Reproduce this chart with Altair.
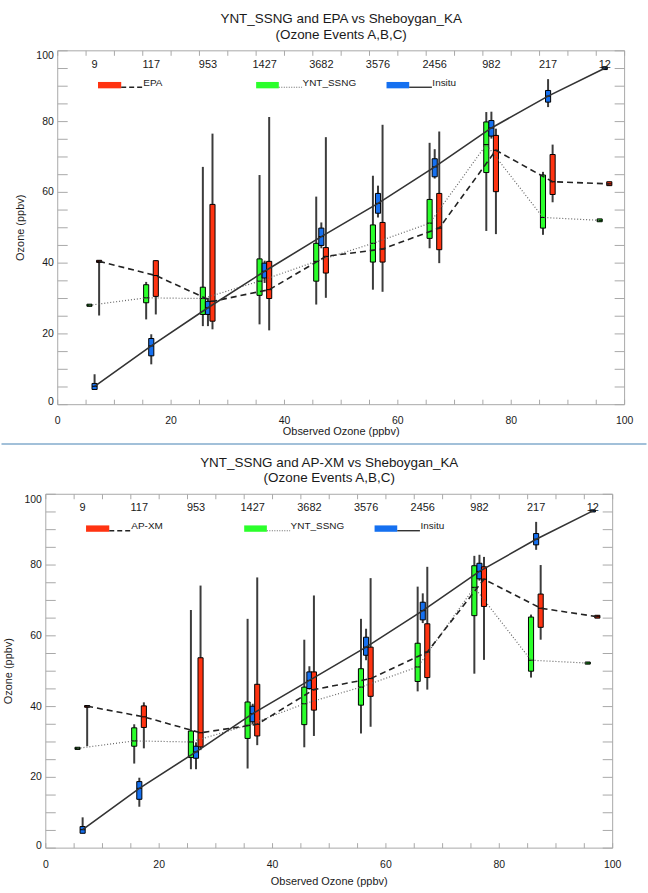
import altair as alt
import pandas as pd

# ---------------------------------------------------------------- data
BINS = [5, 15, 25, 35, 45, 55, 65, 75, 85, 95]
COUNTS = [9, 117, 953, 1427, 3682, 3576, 2456, 982, 217, 12]
X_LABELS = [0, 20, 40, 60, 80, 100]
Y_LABELS = [0, 20, 40, 60, 80, 100]
MINOR_TICKS = list(range(0, 101, 5))

# EPA vs observed (upper panel)
EPA_MIN = [25.2, 25.5, 21.3, 21.0, 30.2, 31.9, 40.0, 48.2, 57.2, 61.9]
EPA_Q1 = [40.2, 30.6, 23.6, 30.0, 37.2, 40.3, 43.8, 60.2, 59.4, 61.9]
EPA_MED = [40.5, 36.5, 29.2, 32.5, 41.9, 44.0, 49.9, 71.9, 63.0, 62.4]
EPA_Q3 = [40.8, 40.7, 56.6, 40.5, 44.4, 51.5, 59.7, 76.1, 70.7, 63.0]
EPA_MAX = [40.8, 40.8, 76.6, 81.3, 75.6, 79.1, 77.2, 78.0, 73.5, 63.0]

YNT1_MIN = [27.8, 24.1, 22.2, 22.7, 28.3, 32.5, 44.2, 49.1, 48.0, 51.7]
YNT1_Q1 = [27.8, 28.8, 25.5, 30.9, 34.9, 40.3, 47.0, 65.6, 49.9, 51.7]
YNT1_MED = [28.1, 30.2, 30.0, 34.9, 40.5, 45.6, 51.3, 73.5, 52.9, 52.1]
YNT1_Q3 = [28.4, 33.9, 33.2, 41.2, 45.6, 50.8, 58.0, 79.9, 64.9, 52.5]
YNT1_MAX = [28.4, 34.7, 67.2, 64.9, 58.8, 64.7, 74.0, 82.7, 65.8, 52.5]

INS1_MIN = [4.3, 11.4, 22.2, 34.4, 44.2, 52.9, 63.9, 75.2, 84.1, 94.7]
INS1_Q1 = [4.3, 13.8, 25.5, 35.8, 45.0, 54.1, 64.4, 75.9, 85.5, 94.7]
INS1_MED = [5.2, 16.6, 27.4, 37.7, 47.5, 56.9, 67.2, 78.2, 87.2, 95.1]
INS1_Q3 = [6.0, 18.7, 29.2, 40.0, 49.9, 59.7, 69.5, 80.3, 88.8, 95.5]
INS1_MAX = [8.6, 19.9, 30.2, 40.7, 51.5, 61.9, 72.2, 82.8, 92.0, 95.5]

# AP-XM vs observed (lower panel)
APX_MIN = [28.8, 28.2, 27.7, 29.1, 31.7, 34.3, 44.8, 53.2, 58.9, 65.0]
APX_Q1 = [39.8, 34.1, 28.6, 31.7, 39.0, 42.9, 48.2, 68.3, 62.4, 65.0]
APX_MED = [40.1, 37.1, 32.6, 35.0, 44.8, 47.9, 55.4, 76.0, 67.8, 65.4]
APX_Q3 = [40.3, 40.2, 53.8, 46.3, 49.8, 56.8, 63.4, 79.5, 71.8, 65.8]
APX_MAX = [40.3, 41.2, 74.2, 76.5, 71.4, 76.3, 79.5, 82.3, 80.0, 65.8]

YNT2_MIN = [27.9, 23.9, 22.3, 22.5, 28.5, 32.4, 44.3, 49.3, 48.2, 52.0]
YNT2_Q1 = [27.9, 28.8, 25.6, 31.0, 34.9, 40.4, 47.1, 65.7, 50.0, 52.0]
YNT2_MED = [28.2, 30.3, 30.0, 34.7, 40.8, 45.5, 51.2, 73.7, 53.1, 52.3]
YNT2_Q3 = [28.5, 34.0, 33.1, 41.3, 45.5, 50.7, 57.9, 79.8, 65.3, 52.6]
YNT2_MAX = [28.5, 35.0, 67.3, 64.8, 58.9, 64.8, 73.9, 82.6, 66.0, 52.6]

INS2_MIN = [4.2, 11.7, 22.3, 35.0, 44.8, 53.1, 63.6, 75.6, 84.3, 95.0]
INS2_Q1 = [4.2, 13.8, 25.4, 35.7, 45.1, 54.5, 64.5, 76.1, 85.7, 95.0]
INS2_MED = [5.2, 16.9, 27.2, 38.0, 47.4, 56.8, 67.1, 78.2, 87.3, 95.3]
INS2_Q3 = [6.1, 18.8, 28.8, 40.1, 49.8, 59.6, 69.5, 80.5, 88.9, 95.6]
INS2_MAX = [8.7, 19.9, 29.9, 40.8, 51.4, 62.0, 72.0, 82.9, 92.2, 95.6]

# ---------------------------------------------------------------- style
FONT = "Liberation Sans"
TEXT = "#1a1a1a"
FRAME = "#a8a8a8"
WHISKER = "#3c3c3c"
RED, GREEN, BLUE = "#ff3311", "#2bff2b", "#1570f0"
SEPARATOR = "#4682b4"

PLOT_W = 569.5       # width of the framed plot box (px)
VIEW_W = 582         # view width: plot box plus room to shift it sideways
H = 355.5            # plot box height (px)
BOX_HALF = 0.45      # half box width, ozone units
SHIFT = {"model": 2.3, "ynt": 0.6, "insitu": 1.5}


def box_frame(stats, shift):
    lo, q1, med, q3, hi = stats
    x = [b + shift for b in BINS]
    return pd.DataFrame({
        "x": x,
        "xl": [v - BOX_HALF for v in x],
        "xr": [v + BOX_HALF for v in x],
        "lo": lo, "q1": q1, "med": med, "q3": q3, "hi": hi,
    })


def panel(title, model_name, model, ynt, insitu, x0, xtitle_dy, top_panel):
    xs = alt.Scale(domain=[0, 100], range=[x0, x0 + PLOT_W], nice=False, zero=False)
    ys = alt.Scale(domain=[0, 100], nice=False, zero=False)

    def X(f):
        return alt.X(f, type="quantitative", scale=xs, axis=None)

    def Y(f):
        return alt.Y(f, type="quantitative", scale=ys, axis=None)

    layers = []
    one = pd.DataFrame({"a": [0]})

    if top_panel:
        # keeps the upper edge of the page fixed above the frame
        layers.append(alt.Chart(one).mark_rule(color="white", strokeWidth=0.5).encode(
            x=alt.value(x0), x2=alt.value(x0 + 4), y=alt.value(-48.3)))
        # divider between the two panels
        layers.append(alt.Chart(one).mark_rule(color=SEPARATOR, strokeWidth=1.2).encode(
            x=alt.value(-44.5), x2=alt.value(603.5), y=alt.value(H + 39.5)))

    # plot frame
    vert = pd.DataFrame({"x": [0, 100], "y": [0, 0], "y2": [100, 100]})
    horiz = pd.DataFrame({"y": [0, 100], "x": [0, 0], "x2": [100, 100]})
    layers.append(alt.Chart(vert).mark_rule(color=FRAME, strokeWidth=1).encode(
        x=X("x"), y=Y("y"), y2="y2:Q"))
    layers.append(alt.Chart(horiz).mark_rule(color=FRAME, strokeWidth=1).encode(
        y=Y("y"), x=X("x"), x2="x2:Q"))

    # inward-pointing tick marks on all four sides
    ticks = pd.DataFrame({"v": MINOR_TICKS})
    tick = alt.Chart(ticks).mark_rule(color=FRAME, strokeWidth=1)
    layers += [
        tick.encode(x=X("v"), y=alt.value(H), y2=alt.value(H - 5)),
        tick.encode(x=X("v"), y=alt.value(0), y2=alt.value(5)),
        tick.encode(y=Y("v"), x=alt.value(x0), x2=alt.value(x0 + 10)),
        tick.encode(y=Y("v"), x=alt.value(x0 + PLOT_W), x2=alt.value(x0 + PLOT_W - 10)),
    ]

    # tick labels
    lab_style = dict(font=FONT, fontSize=10.5, color=TEXT)
    xl = pd.DataFrame({"v": X_LABELS, "s": [str(v) for v in X_LABELS]})
    layers.append(alt.Chart(xl).mark_text(baseline="middle", **lab_style).encode(
        x=X("v"), y=alt.value(H + 16.9), text="s:N"))
    groups = [(Y_LABELS[:1], "alphabetic", 0.5),
              (Y_LABELS[1:-1], "middle", 0),
              (Y_LABELS[-1:], "alphabetic", 8.5)]
    for vals, base, dy in groups:
        yl = pd.DataFrame({"v": vals, "s": [str(v) for v in vals]})
        layers.append(alt.Chart(yl).mark_text(align="right", baseline=base, dy=dy, **lab_style).encode(
            y=Y("v"), x=alt.value(x0 - 4), text="s:N"))

    # axis titles
    layers.append(alt.Chart(pd.DataFrame({"s": ["Observed Ozone (ppbv)"], "v": [50]})).mark_text(
        font=FONT, fontSize=11, color=TEXT, baseline="middle").encode(
        x=X("v"), y=alt.value(H + xtitle_dy), text="s:N"))
    layers.append(alt.Chart(pd.DataFrame({"s": ["Ozone (ppbv)"], "v": [50]})).mark_text(
        font=FONT, fontSize=11, color=TEXT, baseline="middle", angle=270).encode(
        x=alt.value(x0 - 36.5), y=Y("v"), text="s:N"))

    series = [
        (box_frame(ynt, SHIFT["ynt"]), GREEN),
        (box_frame(insitu, SHIFT["insitu"]), BLUE),
        (box_frame(model, SHIFT["model"]), RED),
    ]
    for df, color in series:
        layers.append(alt.Chart(df).mark_rule(color=WHISKER, strokeWidth=2).encode(
            x=X("x"), y=Y("lo"), y2="hi:Q"))
    for df, color in series:
        layers.append(alt.Chart(df).mark_rect(fill=color, stroke="black", strokeWidth=1).encode(
            x=X("xl"), x2="xr:Q", y=Y("q1"), y2="q3:Q"))
        layers.append(alt.Chart(df).mark_rule(color="black", strokeWidth=1).encode(
            x=X("xl"), x2="xr:Q", y=Y("med")))

    ynt_df, ins_df, mod_df = (s[0] for s in series)
    layers.append(alt.Chart(ynt_df).mark_line(color="#666666", strokeWidth=1.2, strokeDash=[1, 2]).encode(
        x=X("x"), y=Y("med")))
    layers.append(alt.Chart(mod_df).mark_line(color="#222222", strokeWidth=1.6, strokeDash=[6, 4]).encode(
        x=X("x"), y=Y("med")))
    layers.append(alt.Chart(ins_df).mark_line(color="#333333", strokeWidth=1.6).encode(
        x=X("x"), y=Y("med")))

    # sample counts per bin
    cnt = pd.DataFrame({"x": [b + SHIFT["insitu"] for b in BINS], "n": [str(c) for c in COUNTS]})
    layers.append(alt.Chart(cnt).mark_text(font=FONT, fontSize=11, color=TEXT, baseline="middle").encode(
        x=X("x"), y=alt.YDatum(96, scale=ys), text="n:N"))

    # legend: swatch, line sample, label
    legend = [
        (RED, 7.1, 11.2, 15.0, model_name, [5, 3], "#222222", 1.6),
        (GREEN, 35.0, 39.0, 43.1, "YNT_SSNG", [1, 1.5], "#666666", 1.1),
        (BLUE, 58.0, 62.0, 66.0, "Insitu", None, "#333333", 1.4),
    ]
    for color, a, b, t, label, dash, lcol, lw in legend:
        d = pd.DataFrame({"a": [a], "b": [b], "t": [t], "label": [label]})
        layers.append(alt.Chart(d).mark_rect(fill=color).encode(
            x=X("a"), x2="b:Q", y=alt.YDatum(89.4, scale=ys), y2=alt.Y2Datum(91.2)))
        line_kw = dict(color=lcol, strokeWidth=lw)
        if dash:
            line_kw["strokeDash"] = dash
        layers.append(alt.Chart(d).mark_rule(**line_kw).encode(
            x=X("b"), x2="t:Q", y=alt.YDatum(89.7, scale=ys)))
        layers.append(alt.Chart(d).mark_text(font=FONT, fontSize=10, color=TEXT, align="left",
                                              baseline="middle", dx=0.5).encode(
            x=X("t"), y=alt.YDatum(91.0, scale=ys), text="label:N"))

    # two-line heading above the frame
    for line, dy in [(title, -31.8), ("(Ozone Events A,B,C)", -16.0)]:
        layers.append(alt.Chart(pd.DataFrame({"s": [line]})).mark_text(
            font=FONT, fontSize=13.5, color=TEXT, baseline="middle").encode(
            x=alt.XDatum(50, scale=xs), y=alt.value(dy), text="s:N"))

    return alt.layer(*layers).properties(width=VIEW_W, height=H)


top = panel("YNT_SSNG and EPA vs Sheboygan_KA", "EPA",
            (EPA_MIN, EPA_Q1, EPA_MED, EPA_Q3, EPA_MAX),
            (YNT1_MIN, YNT1_Q1, YNT1_MED, YNT1_Q3, YNT1_MAX),
            (INS1_MIN, INS1_Q1, INS1_MED, INS1_Q3, INS1_MAX),
            x0=12, xtitle_dy=27.5, top_panel=True)
bottom = panel("YNT_SSNG and AP-XM vs Sheboygan_KA", "AP-XM",
               (APX_MIN, APX_Q1, APX_MED, APX_Q3, APX_MAX),
               (YNT2_MIN, YNT2_Q1, YNT2_MED, YNT2_Q3, YNT2_MAX),
               (INS2_MIN, INS2_Q1, INS2_MED, INS2_Q3, INS2_MAX),
               x0=0, xtitle_dy=34, top_panel=False)

chart = alt.vconcat(top, bottom, spacing=89.5, bounds="flush").properties(
    padding=0, background="white"
).configure(font=FONT).configure_view(stroke=None)

chart.save("out.html", embed_options={"renderer": "svg", "actions": False})
